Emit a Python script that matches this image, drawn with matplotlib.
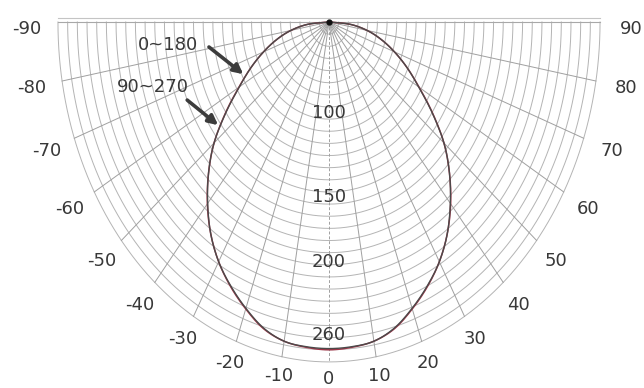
import numpy as np
import matplotlib
matplotlib.use('Agg')
import matplotlib.pyplot as plt
from matplotlib.patches import FancyArrowPatch

# Intensity (cd), every 5 deg from nadir (0) to 90
angles = [0, 5, 10, 15, 20, 25, 30, 35, 40, 45, 50, 55, 60, 65, 70, 75, 80, 85, 90]
c0_180 = [269, 268.5, 267, 261, 251, 240, 228, 213, 195, 176, 155, 130, 107, 89, 72, 56, 40, 22, 0]
c90_270 = [270, 269, 267, 261.5, 251.5, 240.5, 228, 213, 195.5, 176, 155, 130.5, 107.5, 89, 72, 56, 40, 22, 0]

# grid
r_max = 280
ring_step = 10
spoke_angles = list(range(-90, 91, 10))
spoke_labels = [str(a) for a in spoke_angles]

# value labels on the 0 axis
ring_labels = ['100', '150', '200', '260']
ring_label_r = [75, 144, 198, 258]

plane_names = ['0~180', '90~270']

# pixel scale of the original (the diagram is drawn squashed sideways)
kx = 0.968
ky = 1.214
cx, cy = 329, 22

W, H = 644, 388
fig = plt.figure(figsize=(W / 100, H / 100), dpi=100)
ax = fig.add_axes([0, 0, 1, 1])
ax.set_xlim(-cx / kx, (W - cx) / kx)
ax.set_ylim(-(H - cy) / ky, cy / ky)
ax.axis('off')

grid_col = '#b4b4b4'
txt_col = '#383838'
font = 'DejaVu Sans'
fs = 13


def to_xy(theta_deg, r):
    t = np.radians(np.asarray(theta_deg, dtype=float))
    r = np.asarray(r, dtype=float)
    return r * np.sin(t), -r * np.cos(t)


def smooth(x, y, n=12):
    # Catmull-Rom through the read points, only for drawing
    p = np.column_stack([x, y])
    p = np.vstack([p[0], p, p[-1]])
    out = []
    for i in range(1, len(p) - 2):
        p0, p1, p2, p3 = p[i - 1], p[i], p[i + 1], p[i + 2]
        for t in np.linspace(0, 1, n, endpoint=False):
            t2, t3 = t * t, t * t * t
            out.append(0.5 * (2 * p1 + (-p0 + p2) * t
                              + (2 * p0 - 5 * p1 + 4 * p2 - p3) * t2
                              + (-p0 + 3 * p1 - 3 * p2 + p3) * t3))
    out.append(p[-2])
    out = np.array(out)
    return out[:, 0], out[:, 1]


# concentric rings
th = np.linspace(-90, 90, 361)
for r in range(ring_step, r_max + 1, ring_step):
    x, y = to_xy(th, np.full_like(th, r))
    ax.plot(x, y, color=grid_col, lw=0.7, zorder=1)

# spokes
for a in spoke_angles:
    x, y = to_xy([a, a], [0, r_max])
    ls = (0, (3, 2)) if a == 0 else '-'
    ax.plot(x, y, color='#a0a0a0', lw=0.7, ls=ls, zorder=1)

# top border (double line)
ax.plot([-r_max, r_max], [0, 0], color='#a8a8a8', lw=0.8, zorder=1)
ax.plot([-r_max, r_max], [3.3, 3.3], color='#c4c4c4', lw=0.8, zorder=1)
ax.plot(0, 0, 'o', color='#111111', ms=3.5, zorder=4)

# angle labels around the rim
for a, lab in zip(spoke_angles, spoke_labels):
    ex, ey = to_xy(a, r_max)
    px, py = ex * kx, ey * ky
    n = np.hypot(px, py)
    s = abs(np.sin(np.radians(a)))
    c = abs(np.cos(np.radians(a)))
    off = 15 + 16 * s + 2 * c
    lx = (px + px / n * off) / kx
    ly = (py + py / n * off) / ky
    if a in (90, -90):
        ly = -7 / ky
    ax.text(lx, ly, lab, ha='center', va='center', fontsize=fs,
            color=txt_col, family=font)

# ring value labels
for lab, r in zip(ring_labels, ring_label_r):
    ax.text(0, -r, lab, ha='center', va='center', fontsize=fs,
            color=txt_col, family=font, zorder=3)

# light distribution curves (mirror for both halves)
full_ang = [-a for a in angles[::-1]] + angles[1:]
x, y = to_xy(full_ang, c90_270[::-1] + c90_270[1:])
ax.plot(*smooth(x, y), color='#a33548', lw=1.1, zorder=2)
x, y = to_xy(full_ang, c0_180[::-1] + c0_180[1:])
ax.plot(*smooth(x, y), color='#4a4a4a', lw=1.0, zorder=2)

# plane labels with arrows
ax.text(-166, -19, plane_names[0], ha='center', va='center', fontsize=fs,
        color=txt_col, family=font)
ax.text(-182, -53.5, plane_names[1], ha='center', va='center', fontsize=fs,
        color=txt_col, family=font)
for (x0, y0), (x1, y1) in [((-124, -20.6), (-88.5, -43)),
                           ((-146.5, -64.3), (-114.5, -85))]:
    ax.add_patch(FancyArrowPatch((x0, y0), (x1, y1), arrowstyle='-|>',
                                 mutation_scale=14, lw=2.6, color='#3c3c3c',
                                 shrinkA=0, shrinkB=0, zorder=5))

fig.savefig('out.png', dpi=100)
